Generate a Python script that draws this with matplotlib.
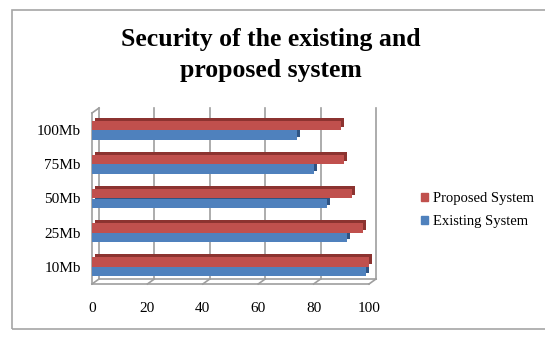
import matplotlib.pyplot as plt
import matplotlib.patches as mpatches
from matplotlib.transforms import ScaledTranslation
import numpy as np

plt.rcParams['font.family'] = ['Liberation Serif', 'DejaVu Serif']

categories = ['10Mb', '25Mb', '50Mb', '75Mb', '100Mb']
existing = [99, 92, 85, 80, 74]
proposed = [100, 98, 94, 91, 90]
xticks = [0, 20, 40, 60, 80, 100]

red = '#C0504D'
red_dark = '#8C3330'
blue = '#4F81BD'
blue_dark = '#2F5483'
grid_col = '#9E9E9E'

fig = plt.figure(figsize=(5.45, 3.38), dpi=100)
ax = fig.add_axes([92 / 545, 54 / 338, 277 / 545, 171 / 338])

y = np.arange(len(categories))
h = 0.28

# 3d-ish depth: darker copy shifted up/right, then the front face
shift = ScaledTranslation(3 / 100, 3 / 100, fig.dpi_scale_trans)
for vals, off, c, cd in [(existing, -h / 2, blue, blue_dark), (proposed, h / 2, red, red_dark)]:
    back = ax.barh(y + off, vals, height=h, color=cd, zorder=3)
    for b in back:
        b.set_transform(ax.transData + shift)
        b.set_clip_on(False)
    front = ax.barh(y + off, vals, height=h, color=c, zorder=4)
    for b in front:
        b.set_clip_on(False)

ax.set_xlim(0, 100)
ax.set_ylim(-0.5, len(categories) - 0.5)

# walls and floor drawn in x-data / y-axes coordinates
tr = ax.get_xaxis_transform()
dx = 7 / 2.77
dy = 5 / 171
lk = dict(color=grid_col, lw=1.2, transform=tr, clip_on=False, zorder=1)
for v in xticks:
    ax.plot([v + dx, v + dx], [dy, 1 + dy], **lk)
    ax.plot([v, v + dx], [0, dy], **lk)
ax.plot([0, 100], [0, 0], **lk)
ax.plot([dx, 100 + dx], [dy, dy], **lk)
ax.plot([0, 0], [0, 1], **lk)
ax.plot([0, dx], [1, 1 + dy], **lk)

ax.set_xticks(xticks)
ax.set_yticks(y)
ax.set_yticklabels(categories)
ax.tick_params(axis='both', length=0, labelsize=11, colors='#000000')
ax.tick_params(axis='x', pad=13)
ax.tick_params(axis='y', pad=8)
for s in ax.spines.values():
    s.set_visible(False)
ax.set_facecolor('none')

fig.text(271 / 545, 1 - 55 / 338, 'Security of the existing and\nproposed system',
         ha='center', va='center', fontsize=18.5, fontweight='bold', linespacing=1.45)

handles = [mpatches.Patch(color=red, label='Proposed System'),
           mpatches.Patch(color=blue, label='Existing System')]
fig.legend(handles=handles, loc='center left', bbox_to_anchor=(408 / 545, 1 - 210 / 338),
           frameon=False, fontsize=10.5, handlelength=0.5, handleheight=0.5,
           handletextpad=0.3, labelspacing=0.7)

fig.patches.append(mpatches.Rectangle((12 / 545, 1 - 329 / 338), 1, 319 / 338, fill=False,
                                      edgecolor='#A6A6A6', lw=1.2, transform=fig.transFigure))

fig.savefig('out.png', dpi=100)
